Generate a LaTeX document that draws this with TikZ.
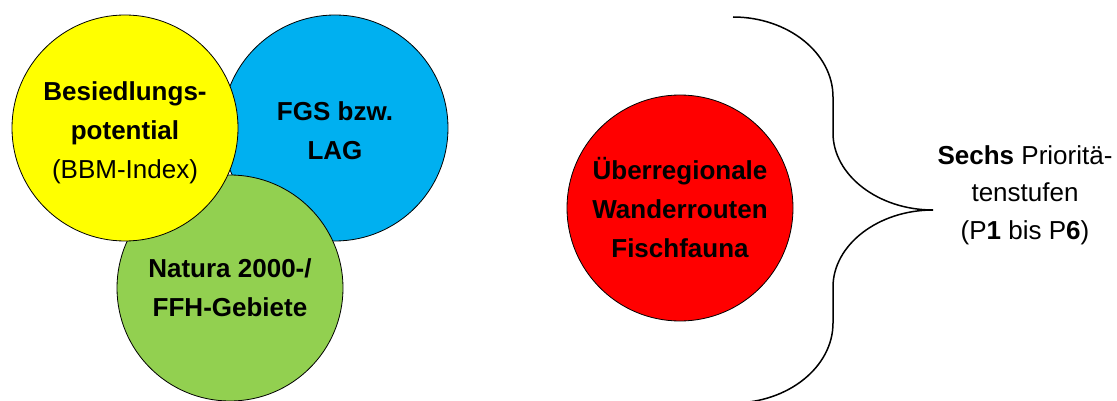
\documentclass[tikz,border=0pt]{standalone}
\usepackage{fontspec}
\setmainfont{Liberation Sans}
\definecolor{cyel}{HTML}{FFFF00}
\definecolor{cblue}{HTML}{00B0F0}
\definecolor{cgreen}{HTML}{92D050}
\definecolor{cred}{HTML}{FF0000}
\begin{document}
\begin{tikzpicture}[x=1pt,y=-1pt,
  bubble/.style={circle,draw=black,line width=0.8pt,minimum size=226pt,inner sep=0pt,
    align=center,font=\fontsize{26}{39}\selectfont\bfseries},
  bracestyle/.style={line width=1.5pt,draw=black},
  sidetext/.style={align=center,font=\fontsize{26}{37.5}\selectfont}]
\useasboundingbox (0,0) rectangle (1117,401);
\node[bubble,fill=cblue] (fgs) at (335,128) {\rule{0pt}{25pt}FGS bzw.\\LAG};
\node[bubble,fill=cgreen] (natura) at (230,288) {Natura 2000-/\\FFH-Gebiete};
\node[bubble,fill=cyel] (bes) at (125,128) {\rule{0pt}{29pt}Besiedlungs-\\potential\\{\mdseries(BBM-Index)}};
\node[bubble,fill=cred] (wander) at (680,208) {Überregionale\\Wanderrouten\\Fischfauna};
\coordinate (btop) at (733,17);
\coordinate (btip) at (933,210);
\coordinate (bbot) at (733,403);
\draw[bracestyle] (btop) .. controls (788,17) and (833,53) .. (833,97)
  -- (833,133) .. controls (833,175) and (878,210) .. (btip)
  .. controls (878,210) and (833,245) .. (833,287)
  -- (833,323) .. controls (833,367) and (788,403) .. (bbot);
\node[sidetext] (prio) at (1025,195) {\textbf{Sechs} Priorit\"a-\\tenstufen\\(P\textbf{1} bis P\textbf{6})};
\end{tikzpicture}
\end{document}
